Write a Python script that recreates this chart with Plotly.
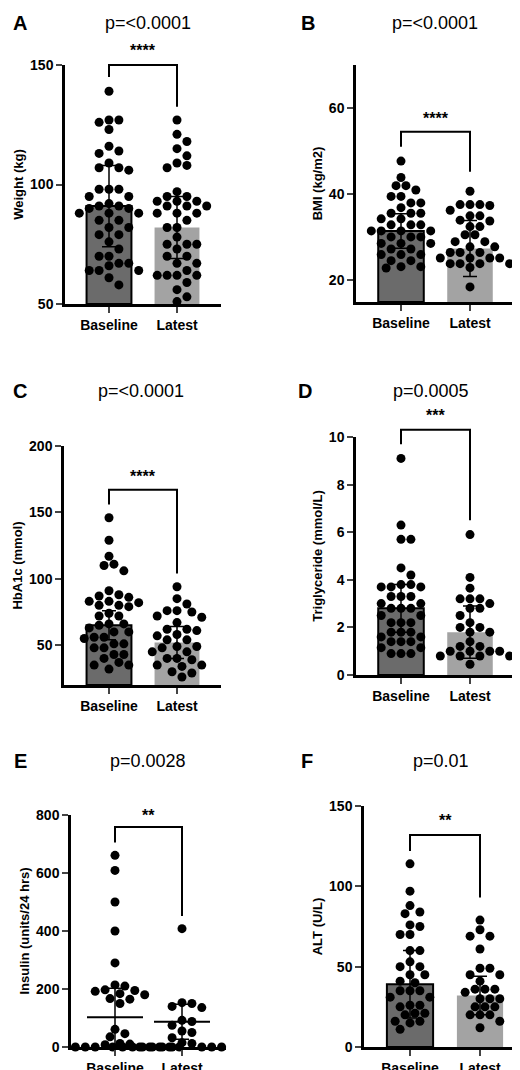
import plotly.graph_objects as go

W, H = 520, 1070
groups = ["Baseline", "Latest"]

# ---- data ----
weight_base = [139,127,127,126,123,116,114,113,109,107,107,106,98,98,98,95,95,92,91,91,90,90,88,88,88,
               85,85,82,82,79,79,76,73,70,70,67,67,66,64,64,64,61,58]
weight_latest = [127,121,118,115,112,109,108,107,97,95,95,93,93,93,91,91,91,88,88,88,85,82,82,78,75,75,
                 75,73,70,70,67,67,64,62,62,62,62,59,56,53,51]
weight_mean = [91, 82]
weight_sd = [17, 13]

bmi_base = [47.7,43.9,42,42,41,39.5,39.5,38,38,36.9,35.6,35.6,35.6,34.3,34.3,32.9,32.9,32.9,31.5,31.5,
            31.5,31.5,30.1,30.1,30.1,28.6,28.6,28.6,27.3,27.3,26,26,26,24.6,24.6,23.2,23.2,22.9]
bmi_latest = [40.7,37.6,37.6,37.6,37.4,36.3,35,35,34,33.8,32.5,32.5,30.6,30.6,29,29,27.8,27.8,26.5,26.5,
              26.5,25.2,25.2,25.2,25.2,23.9,23.9,23.9,23.9,23,18.5]
bmi_mean = [31.5, 27.4]
bmi_sd = [4, 6.5]

hba1c_base = [146,129,117,111,110,106,91,88,87,86,83,83,82,80,80,79,74,72,72,66,66,65,63,60,60,56,56,
              55,51,51,48,48,43,43,40,37,35,35,32]
hba1c_latest = [94,85,81,76,76,75,72,71,67,62,62,61,58,57,54,54,49,49,48,45,45,40,40,39,35,35,34,30,29,26]
hba1c_mean = [65, 52]
hba1c_sd = [11, 12]

tg_base = [9.1,6.3,5.7,5.7,4.5,4.2,3.8,3.8,3.7,3.7,3.7,3.3,3.3,3.3,3.0,3.0,2.8,2.8,2.8,2.5,2.5,2.2,2.2,
           2.2,1.8,1.8,1.8,1.6,1.6,1.4,1.4,1.4,1.15,1.15,0.9,0.9,0.9]
tg_latest = [5.9,4.1,3.65,3.2,3.2,3.2,3.0,2.8,2.8,2.5,2.2,2.0,2.0,1.8,1.8,1.4,1.2,1.2,1.0,1.0,1.0,1.0,
             0.8,0.8,0.8,0.8,0.45]
tg_mean = [2.8, 1.8]
tg_sd = [1.0, 1.1]

ins_base = [661,609,500,400,290,214,210,197,195,192,184,180,167,165,150,61,46,35,12,10,8,
            0,0,0,0,0,0,0,0,0,0]
ins_latest = [408,153,150,140,136,92,88,75,55,50,32,15,12,0,0,0,0,0,0,0,0,0,0,0,0,0]
ins_mean = [103, 87]
ins_sd = [100, 60]

alt_base = [114,97,88,84,83,76,75,70,70,60,60,53,50,50,45,45,41,40,35,35,35,31,31,26,26,25,21,21,20,
            16,16,15,11]
alt_latest = [79,73,69,69,61,49,49,45,45,41,36,36,36,34,30,30,30,25,25,25,20,20,20,16,12]
alt_mean = [39, 32]
alt_sd = [21, 12]

# ---- panel layout (pixels) ----
panels = [
    dict(letter="A", p="p=<0.0001", stars="****", ytitle="Weight (kg)", base=weight_base, latest=weight_latest,
         mean=weight_mean, sd=weight_sd, yr=[50, 150], ticks=[50, 100, 150], ypx=(57, 296),
         xpx=(57, 213), cpx=(101, 169), title_xy=(140, 15), letter_x=12,
         br=(150, 145, 132.5, 156), bars=True),
    dict(letter="B", p="p=<0.0001", stars="****", ytitle="BMI (kg/m2)", base=bmi_base, latest=bmi_latest,
         mean=bmi_mean, sd=bmi_sd, yr=[15, 70], ticks=[20, 40, 60], ypx=(57, 294),
         xpx=(348, 507), cpx=(393, 462), title_xy=(427, 15), letter_x=300,
         br=(54.5, 51, 45.2, 57.5), bars=True),
    dict(letter="C", p="p=<0.0001", stars="****", ytitle="HbA1c (mmol)", base=hba1c_base, latest=hba1c_latest,
         mean=hba1c_mean, sd=hba1c_sd, yr=[20, 200], ticks=[50, 100, 150, 200], ypx=(438, 677),
         xpx=(56, 213), cpx=(101, 169), title_xy=(133, 383), letter_x=12,
         br=(167, 156, 104, 177), bars=True),
    dict(letter="D", p="p=0.0005", stars="***", ytitle="Triglyceride (mmol/L)", base=tg_base, latest=tg_latest,
         mean=tg_mean, sd=tg_sd, yr=[0, 10], ticks=[0, 2, 4, 6, 8, 10], ypx=(429, 667),
         xpx=(348, 507), cpx=(393, 462), title_xy=(423, 383), letter_x=297,
         br=(10.3, 9.7, 6.5, 10.9), bars=True),
    dict(letter="E", p="p=0.0028", stars="**", ytitle="Insulin (units/24 hrs)", base=ins_base, latest=ins_latest,
         mean=ins_mean, sd=ins_sd, yr=[0, 800], ticks=[0, 200, 400, 600, 800], ypx=(807, 1039),
         xpx=(63, 218), cpx=(107, 174), title_xy=(140, 753), letter_x=12,
         br=(759, 705, 452, 800), bars=False),
    dict(letter="F", p="p=0.01", stars="**", ytitle="ALT (U/L)", base=alt_base, latest=alt_latest,
         mean=alt_mean, sd=alt_sd, yr=[0, 150], ticks=[0, 50, 100, 150], ypx=(798, 1039),
         xpx=(356, 517), cpx=(402, 472), title_xy=(433, 753), letter_x=299,
         br=(132, 122, 93, 141), bars=True),
]

DOT = 9
BOLD = "Liberation Sans"


def swarm(vals, pxu, pxx):
    """simple beeswarm: returns x offsets in category units"""
    placed = []
    offs = []
    for v in vals:
        y = v * pxu
        k = 0
        while True:
            cands = [0] if k == 0 else [k, -k]
            ok = None
            for c in cands:
                x = c * DOT * 0.55
                if all((x - px) ** 2 + (y - py) ** 2 >= (DOT * 0.98) ** 2 for px, py in placed):
                    ok = x
                    break
            if ok is not None:
                placed.append((ok, y))
                offs.append(ok / pxx)
                break
            k += 1
    return offs


fig = go.Figure()
layout = dict(width=W, height=H, margin=dict(l=0, r=0, t=0, b=0, autoexpand=False), showlegend=False,
              plot_bgcolor="white", paper_bgcolor="white", shapes=[], annotations=[])

for i, pn in enumerate(panels, start=1):
    xa, ya = ("x", "y") if i == 1 else (f"x{i}", f"y{i}")
    x0, x1 = pn["xpx"]
    c0, c1 = pn["cpx"]
    spacing = c1 - c0
    xr = [-(c0 - x0) / spacing, 1 + (x1 - c1) / spacing]
    yt, yb = pn["ypx"]
    pxu = (yb - yt) / (pn["yr"][1] - pn["yr"][0])

    def to_py(v, pn=pn, yb=yb, pxu=pxu):
        return 1 - (yb - (v - pn["yr"][0]) * pxu) / H

    def to_px(c, c0=c0, spacing=spacing):
        return (c0 + c * spacing) / W

    if pn["bars"]:
        fig.add_trace(go.Bar(x=[0, 1], y=[m - pn["yr"][0] for m in pn["mean"]], base=pn["yr"][0],
                             width=0.66, xaxis=xa, yaxis=ya,
                             marker=dict(color=["#6b6b6b", "#a3a3a3"],
                                         line=dict(color=["black", "rgba(0,0,0,0)"], width=2))))
    for g, vals in enumerate([pn["base"], pn["latest"]]):
        offs = swarm(sorted(vals, reverse=True), pxu, spacing)
        fig.add_trace(go.Scatter(x=[g + o for o in offs], y=sorted(vals, reverse=True), mode="markers",
                                 xaxis=xa, yaxis=ya, cliponaxis=False,
                                 marker=dict(color="black", size=DOT)))
    # mean +/- sd
    fig.add_trace(go.Scatter(x=[0, 1], y=pn["mean"], mode="markers", xaxis=xa, yaxis=ya, cliponaxis=False,
                             marker=dict(symbol="line-ew-open", size=40 if not pn["bars"] else 1,
                                         color="black", line=dict(width=2, color="black")),
                             error_y=dict(type="data", array=pn["sd"], color="black",
                                          thickness=1.5, width=7)))
    # significance bracket
    top, lft, rgt, sy = pn["br"]
    layout["shapes"].append(dict(type="path", xref="paper", yref="paper",
                                 path=f"M {to_px(0)} {to_py(lft)} L {to_px(0)} {to_py(top)} "
                                      f"L {to_px(1)} {to_py(top)} L {to_px(1)} {to_py(rgt)}",
                                 line=dict(color="black", width=2)))
    layout["annotations"].append(dict(text=f"<b>{pn['stars']}</b>", xref="paper", yref="paper",
                                      x=to_px(0.5), y=to_py(sy), showarrow=False,
                                      xanchor="center", yanchor="middle",
                                      font=dict(family=BOLD, size=16, color="black")))
    tx, ty = pn["title_xy"]
    layout["annotations"].append(dict(text=pn["p"], xref="paper", yref="paper", x=tx / W, y=1 - ty / H,
                                      showarrow=False, xanchor="center", yanchor="middle",
                                      font=dict(family="Liberation Sans", size=18, color="black")))
    layout["annotations"].append(dict(text=f"<b>{pn['letter']}</b>", xref="paper", yref="paper",
                                      x=pn["letter_x"] / W, y=1 - ty / H, xanchor="center",
                                      yanchor="middle", showarrow=False,
                                      font=dict(family=BOLD, size=20, color="black")))

    axkey = "xaxis" if i == 1 else f"xaxis{i}"
    aykey = "yaxis" if i == 1 else f"yaxis{i}"
    layout[axkey] = dict(domain=[x0 / W, x1 / W], range=xr, anchor=ya, tickvals=[0, 1],
                         ticktext=[f"<b>{g}</b>" for g in groups], ticks="outside", ticklen=6,
                         tickwidth=2, showline=True, linecolor="black", linewidth=2.5,
                         showgrid=False, zeroline=False, fixedrange=True, automargin=False,
                         tickfont=dict(family=BOLD, size=14, color="black"))
    layout[aykey] = dict(domain=[1 - yb / H, 1 - yt / H], range=pn["yr"], anchor=xa,
                         tickvals=pn["ticks"], ticktext=[f"<b>{t}</b>" for t in pn["ticks"]],
                         ticks="outside", ticklen=6, tickwidth=2, showline=True, linecolor="black",
                         linewidth=2.5, showgrid=False, zeroline=False, automargin=False,
                         title=dict(text=f"<b>{pn['ytitle']}</b>", standoff=4,
                                    font=dict(family=BOLD, size=13, color="black")),
                         tickfont=dict(family=BOLD, size=14, color="black"))

fig.update_layout(**layout)
fig.write_html("out.html")
